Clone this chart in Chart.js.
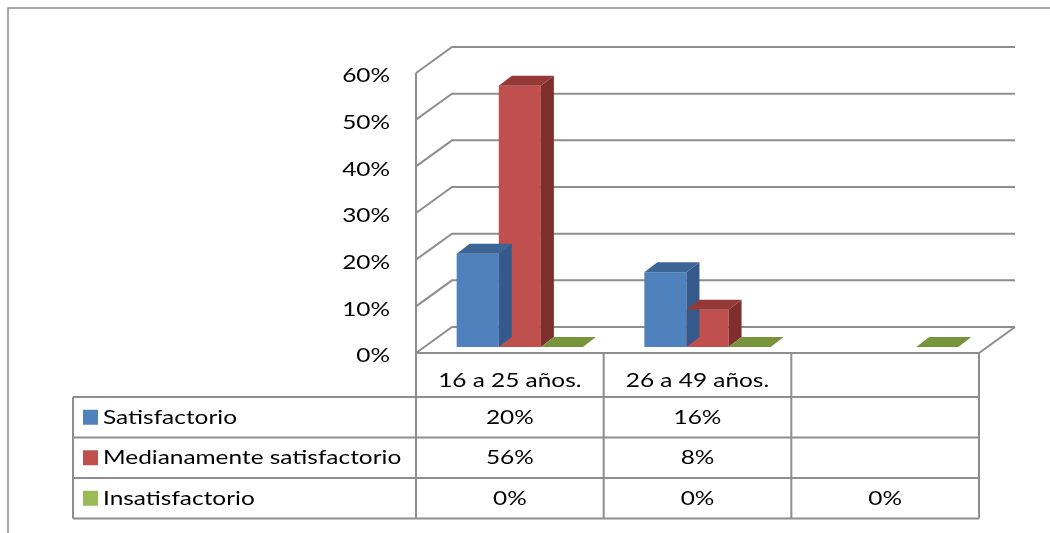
<!DOCTYPE html>
<html>
<head>
<meta charset="utf-8">
<script src="https://cdn.jsdelivr.net/npm/chart.js@4"></script>
<style>
  html, body { margin: 0; padding: 0; background: #ffffff; }
  #wrap { position: relative; width: 1050px; height: 533px; }
  canvas { display: block; }
</style>
</head>
<body>
<div id="wrap"><canvas id="c" width="1050" height="533"></canvas></div>
<script>
// Age groups (the third column is left unnamed)
const categories = ['16 a 25 años.', '26 a 49 años.', ''];

// Share of respondents per rating, one value per age group (null = no entry)
const satisfactorio = [0.20, 0.16, null];
const medianamente = [0.56, 0.08, null];
const insatisfactorio = [0.00, 0.00, 0.00];

const seriesNames = ['Satisfactorio', 'Medianamente satisfactorio', 'Insatisfactorio'];
const yTicks = [0, 0.1, 0.2, 0.3, 0.4, 0.5, 0.6];

const FONT = 'Lato, "Open Sans", sans-serif';
const FONT_SIZE = 20;
const TEXT_STRETCH = 1.22; // the chart's lettering is set wide

// face colours: front, side, top
const palette = [
  { front: '#4F81BD', side: '#34598A', top: '#3A6595' },
  { front: '#C0504D', side: '#7E2F2D', top: '#953937' },
  { front: '#9BBB59', side: '#6B8A33', top: '#77933C' }
];

// depth geometry (pixels)
const WALL = { dx: 36, dy: -26 };   // back wall offset from the front plane
const BAR_PLANE = { dx: 10, dy: -6 }; // front face of the bars
const BAR_DEPTH = { dx: 13, dy: -10 };

function pct(v) { return Math.round(v * 100) + '%'; }

// text drawn with a horizontal stretch around its anchor point
function wideText(ctx, str, x, y, align) {
  ctx.save();
  ctx.translate(x, y);
  ctx.scale(TEXT_STRETCH, 1);
  ctx.textAlign = align;
  ctx.fillText(str, 0, 0);
  ctx.restore();
}

const scene3d = {
  id: 'scene3d',
  beforeDatasetsDraw(chart) {
    const { ctx, chartArea: a, scales: { y } } = chart;
    ctx.save();
    ctx.strokeStyle = '#8E8E8E';
    ctx.lineWidth = 2;
    // left wall and back-wall gridlines
    yTicks.forEach(t => {
      const py = y.getPixelForValue(t);
      ctx.beginPath();
      ctx.moveTo(a.left, py);
      ctx.lineTo(a.left + WALL.dx, py + WALL.dy);
      ctx.lineTo(a.right + WALL.dx, py + WALL.dy);
      ctx.stroke();
    });
    // left wall front edge
    ctx.beginPath();
    ctx.moveTo(a.left, y.getPixelForValue(yTicks[yTicks.length - 1]));
    ctx.lineTo(a.left, a.bottom);
    ctx.stroke();
    // floor outline
    const y0 = y.getPixelForValue(0);
    ctx.beginPath();
    ctx.moveTo(a.left, y0);
    ctx.lineTo(a.right, y0);
    ctx.lineTo(a.right + WALL.dx, y0 + WALL.dy);
    ctx.stroke();

    // value axis labels
    ctx.fillStyle = '#000000';
    ctx.font = FONT_SIZE + 'px ' + FONT;
    ctx.textBaseline = 'middle';
    yTicks.forEach(t => wideText(ctx, pct(t), a.left - 26, y.getPixelForValue(t) + 3, 'right'));
    ctx.restore();

    // bars sit a little behind the front plane
    ctx.save();
    ctx.translate(BAR_PLANE.dx, BAR_PLANE.dy);
  },
  afterDatasetsDraw(chart) {
    const { ctx } = chart;
    // extrude each bar: side and top faces
    chart.data.datasets.forEach((ds, di) => {
      const meta = chart.getDatasetMeta(di);
      const col = palette[di];
      meta.data.forEach((bar, i) => {
        if (ds.data[i] === null || ds.data[i] === undefined) return;
        const p = bar.getProps(['x', 'y', 'base', 'width'], true);
        const l = p.x - p.width / 2, r = p.x + p.width / 2;
        const top = Math.min(p.y, p.base), bot = Math.max(p.y, p.base);
        const dx = BAR_DEPTH.dx, dy = BAR_DEPTH.dy;
        if (bot - top > 0.5) {
          ctx.fillStyle = col.side;
          ctx.beginPath();
          ctx.moveTo(r, top); ctx.lineTo(r + dx, top + dy);
          ctx.lineTo(r + dx, bot + dy); ctx.lineTo(r, bot);
          ctx.closePath(); ctx.fill();
        }
        ctx.fillStyle = col.top;
        ctx.beginPath();
        ctx.moveTo(l, top); ctx.lineTo(l + dx, top + dy);
        ctx.lineTo(r + dx, top + dy); ctx.lineTo(r, top);
        ctx.closePath(); ctx.fill();
      });
    });
    ctx.restore();
  },
  afterDraw(chart) {
    const { ctx, chartArea: a, scales: { x, y } } = chart;
    const y0 = y.getPixelForValue(0);
    const step = (a.right - a.left) / categories.length;
    const colEdges = categories.map((c, i) => x.getPixelForValue(i) - step / 2);
    colEdges.push(a.right);
    const legendLeft = 73;
    const headerBottom = 397;
    const rowH = 40.5;
    const rows = [headerBottom, headerBottom + rowH, headerBottom + 2 * rowH, headerBottom + 3 * rowH];

    ctx.save();
    ctx.strokeStyle = '#8E8E8E';
    ctx.lineWidth = 2;
    // horizontal rules
    ctx.beginPath();
    ctx.moveTo(a.left, y0); ctx.lineTo(a.right, y0);
    rows.forEach(ry => { ctx.moveTo(legendLeft, ry); ctx.lineTo(a.right, ry); });
    // vertical rules
    colEdges.forEach(cx => { ctx.moveTo(cx, y0); ctx.lineTo(cx, rows[3]); });
    ctx.moveTo(legendLeft, rows[0]); ctx.lineTo(legendLeft, rows[3]);
    ctx.stroke();

    ctx.fillStyle = '#000000';
    ctx.font = FONT_SIZE + 'px ' + FONT;
    ctx.textBaseline = 'middle';
    // category header
    categories.forEach((c, i) => {
      wideText(ctx, c, x.getPixelForValue(i), (y0 + rows[0]) / 2 + 6, 'center');
    });
    // series rows
    chart.data.datasets.forEach((ds, di) => {
      const cy = (rows[di] + rows[di + 1]) / 2;
      ctx.fillStyle = palette[di].front;
      ctx.fillRect(legendLeft + 10, cy - 7.5, 15, 15);
      ctx.fillStyle = '#000000';
      wideText(ctx, ds.label, legendLeft + 30, cy, 'left');
      ds.data.forEach((v, i) => {
        if (v === null || v === undefined) return;
        wideText(ctx, pct(v), x.getPixelForValue(i), cy, 'center');
      });
    });

    // outer frame
    ctx.strokeStyle = '#8A8A8A';
    ctx.lineWidth = 1.5;
    ctx.beginPath();
    ctx.moveTo(8, 533); ctx.lineTo(8, 8); ctx.lineTo(1050, 8);
    ctx.stroke();
    ctx.restore();
  }
};

const seriesData = [satisfactorio, medianamente, insatisfactorio];

new Chart(document.getElementById('c'), {
  type: 'bar',
  data: {
    labels: categories,
    datasets: seriesData.map((d, i) => ({
      label: seriesNames[i],
      data: d,
      backgroundColor: palette[i].front,
      borderWidth: 0,
      categoryPercentage: 0.673,
      barPercentage: 1
    }))
  },
  options: {
    responsive: false,
    animation: false,
    events: [],
    layout: { padding: { left: 0, top: 73, right: 71, bottom: 180 } },
    plugins: { legend: { display: false }, tooltip: { enabled: false } },
    scales: {
      x: { display: false, offset: true },
      y: {
        min: 0, max: 0.6,
        afterFit(scale) { scale.width = 416; },
        afterBuildTicks(scale) { scale.ticks = yTicks.map(v => ({ value: v })); },
        grid: { display: false, drawTicks: false },
        border: { display: false },
        ticks: { display: false }
      }
    }
  },
  plugins: [scene3d]
});
</script>
</body>
</html>
